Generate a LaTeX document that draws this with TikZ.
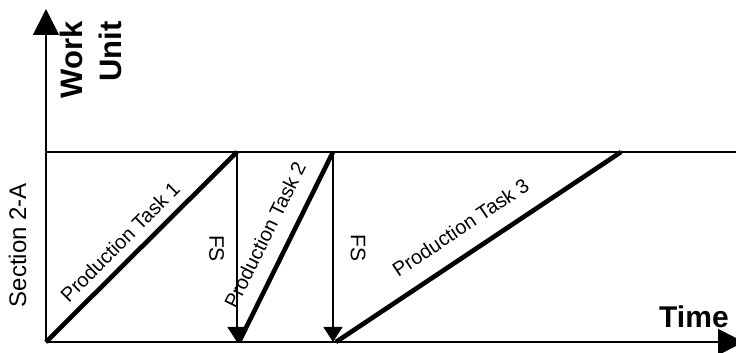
\documentclass[tikz,border=0pt]{standalone}
\usepackage{fontspec}
\setmainfont{Liberation Sans}
\usetikzlibrary{arrows.meta}
\begin{document}
\begin{tikzpicture}[x=1pt,y=1pt,
  axis/.style={line width=1.5pt,-{Triangle[length=26pt,width=26pt]}},
  task/.style={line width=4.6pt},
  fs/.style={line width=1.2pt,-{Triangle[length=15pt,width=19pt]}},
  lab/.style={inner sep=0pt,font=\fontsize{20}{24}\selectfont}]
  \useasboundingbox (0,0) rectangle (736,353);
  % axes and section band
  \coordinate (o) at (46,11);
  \coordinate (ytop) at (46,344);
  \coordinate (xend) at (744,11);
  \coordinate (bandl) at (46,201);
  \coordinate (bandr) at (736,201);
  \draw[line width=1.2pt] (bandl) -- (bandr);
  \draw[axis] (o) -- (ytop);
  \draw[axis] (o) -- (xend);
  % tasks
  \coordinate (t1a) at (46,11);  \coordinate (t1b) at (237,201);
  \coordinate (t2a) at (239,11); \coordinate (t2b) at (333,201);
  \coordinate (t3a) at (336,11); \coordinate (t3b) at (621,201);
  \foreach \t in {1,2,3}
    \draw[task] (t\t a) -- (t\t b);
  \draw[fs] (t1b) -- (t1b |- o);
  \draw[fs] (t2b) -- (t2b |- o);
  % labels
  \node[lab,rotate=45] (lab1) at (120,111) {Production Task 1};
  \node[lab,rotate=63.7] (lab2) at (265,118) {Production Task 2};
  \node[lab,rotate=33.8] (lab3) at (460.5,125.5) {Production Task 3};
  \node[lab,rotate=-90,font=\fontsize{21}{25}\selectfont] (fs1) at (216.5,104.5) {FS};
  \node[lab,rotate=-90,font=\fontsize{21}{25}\selectfont] (fs2) at (358,105) {FS};
  \node[lab,rotate=90,font=\fontsize{24}{28}\selectfont] (sec) at (17.5,108) {Section 2-A};
  \node[lab,rotate=90,align=right,font=\fontsize{31}{39}\selectfont\bfseries] (wu) at (91,293) {Work\\Unit};
  \node[lab,anchor=base west,font=\fontsize{30}{36}\selectfont\bfseries] (time) at (659,25) {Time};
\end{tikzpicture}
\end{document}
